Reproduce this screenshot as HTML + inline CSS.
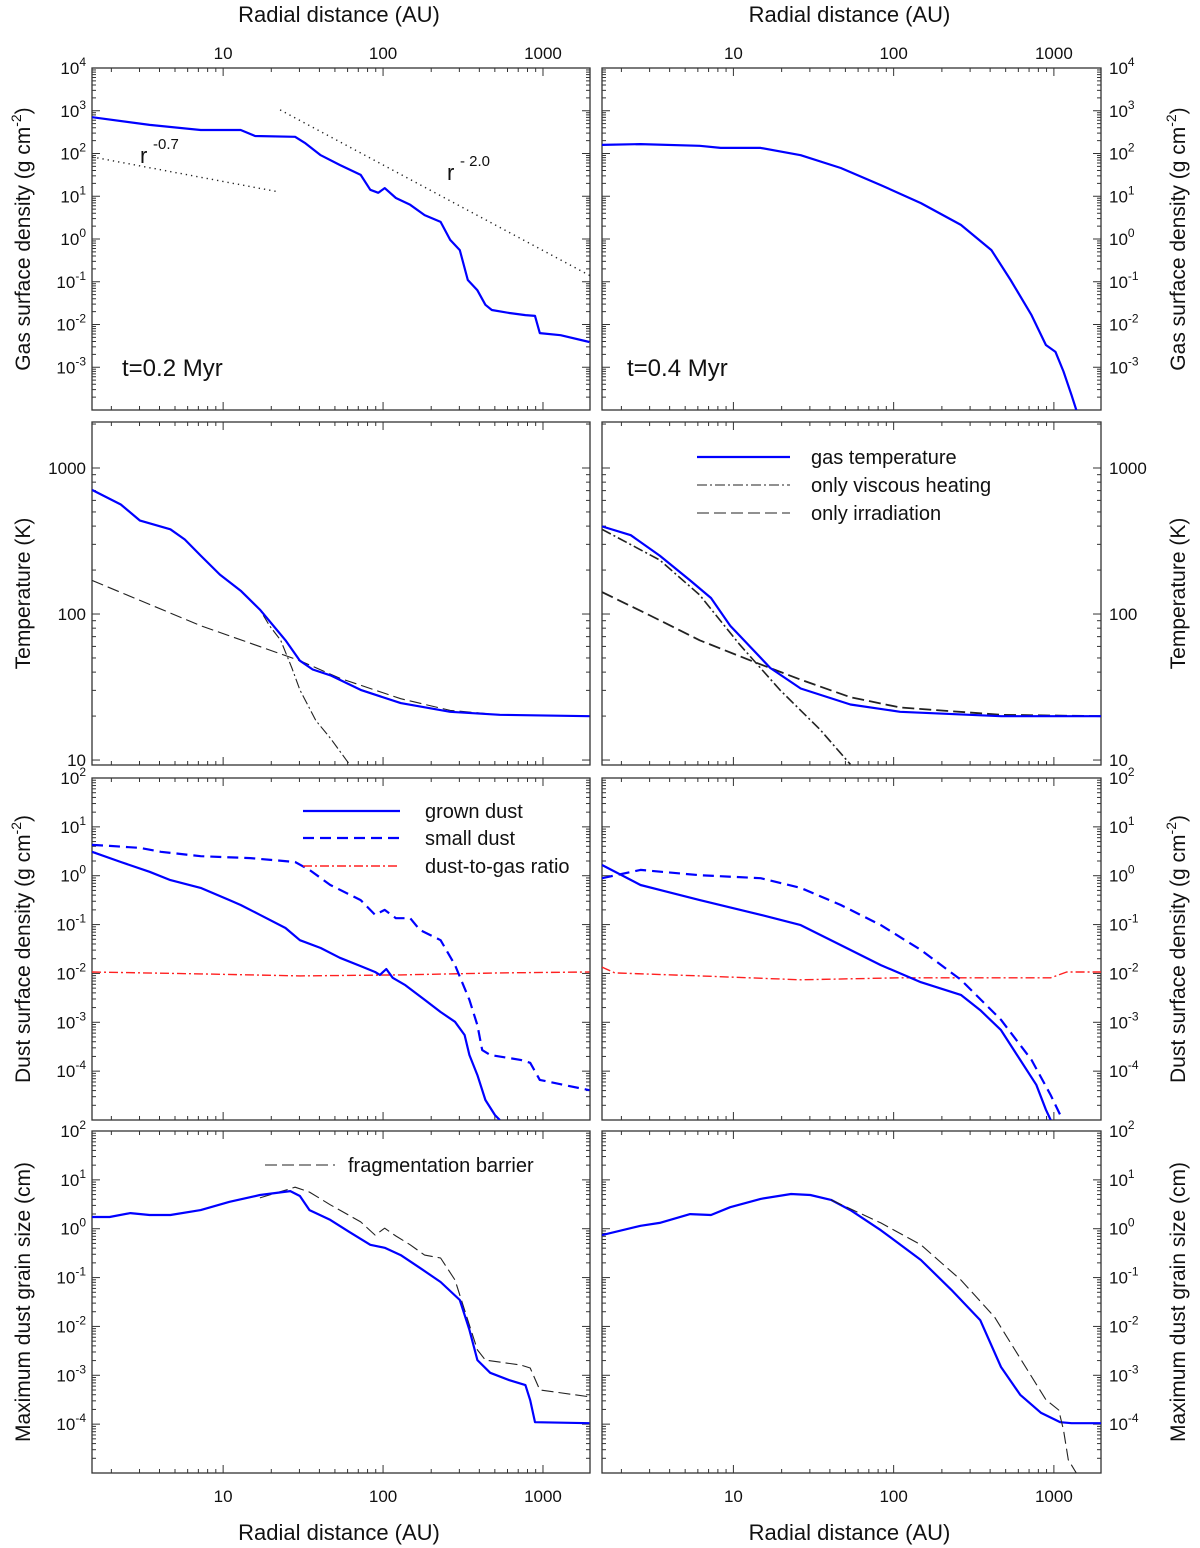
<!DOCTYPE html>
<html><head><meta charset="utf-8"><style>
body{margin:0;background:#fff}
svg{display:block;font-family:"Liberation Sans",sans-serif}
</style></head><body>
<svg id="c" width="1200" height="1548" viewBox="0 0 1200 1548"></svg>
<script>
// ---- data (log10 radius in AU, log10 quantity) ----
const gasL_logR=[0.18,0.54,0.86,1.11,1.2,1.45,1.51,1.61,1.73,1.86,1.92,1.97,2.01,2.08,2.17,2.26,2.36,2.42,2.48,2.53,2.59,2.64,2.68,2.79,2.89,2.95,2.98,3.11,3.29];
const gasL_logS=[2.85,2.67,2.55,2.55,2.41,2.39,2.25,1.96,1.73,1.5,1.15,1.08,1.19,0.96,0.8,0.56,0.4,-0.02,-0.26,-0.96,-1.2,-1.54,-1.66,-1.73,-1.78,-1.8,-2.2,-2.25,-2.41];
const gasR_logR=[0.18,0.42,0.79,0.92,1.17,1.42,1.67,1.92,2.17,2.42,2.61,2.73,2.86,2.95,3.01,3.06,3.11,3.14];
const gasR_logS=[2.2,2.22,2.18,2.13,2.13,1.96,1.66,1.26,0.84,0.33,-0.26,-0.96,-1.78,-2.48,-2.64,-3.1,-3.65,-4];
const slopes=[-0.7,-2.0];
const tgL_logR=[0.18,0.36,0.48,0.67,0.76,0.86,0.98,1.11,1.23,1.39,1.48,1.56,1.67,1.86,2.11,2.42,2.73,3.29];
const tgL_logT=[2.85,2.75,2.64,2.58,2.51,2.40,2.27,2.16,2.03,1.82,1.68,1.62,1.58,1.48,1.39,1.33,1.31,1.30];
const tvL_logR=[0.18,0.36,0.48,0.67,0.76,0.86,0.98,1.11,1.23,1.29,1.36,1.43,1.48,1.58,1.67,1.79];
const tvL_logT=[2.85,2.75,2.64,2.58,2.51,2.40,2.27,2.16,2.03,1.92,1.82,1.63,1.48,1.27,1.15,0.97];
const tiL_logR=[0.18,0.86,1.48,1.73,2.11,2.42,2.73,3.29];
const tiL_logT=[2.23,1.92,1.68,1.56,1.42,1.34,1.31,1.30];
const tgR_logR=[0.18,0.36,0.54,0.73,0.86,0.98,1.11,1.23,1.42,1.73,2.04,2.67,3.3];
const tgR_logT=[2.60,2.54,2.40,2.23,2.11,1.92,1.77,1.63,1.49,1.38,1.33,1.30,1.30];
const tvR_logR=[0.18,0.54,0.79,1.04,1.29,1.54,1.73];
const tvR_logT=[2.58,2.37,2.13,1.79,1.48,1.21,0.97];
const tiR_logR=[0.18,0.48,0.79,1.11,1.42,1.73,2.04,2.67,3.3];
const tiR_logT=[2.15,1.99,1.82,1.68,1.55,1.43,1.36,1.31,1.30];
const dgL_logR=[0.18,0.36,0.54,0.67,0.86,1.04,1.11,1.23,1.39,1.48,1.61,1.73,1.86,1.95,1.98,2.02,2.06,2.14,2.26,2.36,2.45,2.51,2.54,2.59,2.64,2.70,2.73];
const dgL_logS=[0.49,0.28,0.08,-0.09,-0.25,-0.50,-0.60,-0.80,-1.07,-1.32,-1.48,-1.68,-1.85,-1.97,-2.03,-1.91,-2.09,-2.24,-2.54,-2.79,-2.99,-3.26,-3.67,-4.08,-4.59,-4.9,-5.0];
const dsL_logR=[0.18,0.29,0.48,0.61,0.86,1.17,1.45,1.54,1.67,1.86,1.95,2.01,2.08,2.17,2.23,2.36,2.45,2.54,2.59,2.62,2.67,2.86,2.92,2.98,3.29];
const dsL_logS=[0.63,0.61,0.57,0.49,0.40,0.36,0.28,0.12,-0.19,-0.50,-0.80,-0.70,-0.87,-0.87,-1.11,-1.32,-1.83,-2.54,-3.06,-3.57,-3.67,-3.77,-3.83,-4.18,-4.39];
const rdL_logR=[0.18,0.86,1.48,2.11,2.73,3.29];
const rdL_logV=[-1.97,-2.01,-2.05,-2.03,-1.99,-1.97];
const dgR_logR=[0.18,0.42,0.79,1.17,1.42,1.67,1.92,2.17,2.42,2.54,2.67,2.79,2.89,2.95,2.98];
const dgR_logS=[0.22,-0.19,-0.50,-0.80,-1.01,-1.42,-1.83,-2.18,-2.44,-2.75,-3.16,-3.77,-4.28,-4.79,-5.0];
const dsR_logR=[0.18,0.42,0.79,1.17,1.42,1.67,1.92,2.17,2.42,2.67,2.86,2.98,3.04];
const dsR_logS=[-0.05,0.12,0.01,-0.05,-0.25,-0.60,-1.01,-1.52,-2.13,-2.95,-3.77,-4.49,-4.9];
const rdR_logR=[0.18,0.26,0.79,1.42,2.04,2.98,3.08,3.3];
const rdR_logV=[-1.87,-1.99,-2.05,-2.13,-2.09,-2.09,-1.97,-1.97];
const amL_logR=[0.18,0.29,0.42,0.54,0.67,0.86,1.04,1.23,1.42,1.48,1.54,1.67,1.79,1.92,2.01,2.11,2.23,2.36,2.48,2.54,2.59,2.67,2.79,2.89,2.92,2.95,3.29];
const amL_logA=[0.24,0.24,0.32,0.28,0.28,0.38,0.55,0.69,0.77,0.67,0.38,0.18,-0.07,-0.33,-0.39,-0.54,-0.80,-1.09,-1.46,-2.07,-2.69,-2.95,-3.10,-3.20,-3.51,-3.96,-3.98];
const afL_logR=[1.23,1.45,1.54,1.67,1.86,1.95,2.01,2.08,2.17,2.26,2.36,2.45,2.53,2.59,2.64,2.86,2.92,2.98,3.29];
const afL_logA=[0.63,0.85,0.75,0.49,0.14,-0.13,0.01,-0.15,-0.33,-0.54,-0.60,-1.05,-1.87,-2.48,-2.69,-2.79,-2.85,-3.30,-3.44];
const amR_logR=[0.18,0.42,0.54,0.73,0.86,0.98,1.17,1.36,1.48,1.61,1.73,1.92,2.17,2.36,2.54,2.67,2.79,2.92,3.04,3.11,3.3];
const amR_logA=[-0.13,0.06,0.12,0.30,0.28,0.44,0.61,0.71,0.69,0.59,0.38,-0.03,-0.64,-1.25,-1.87,-2.83,-3.4,-3.77,-3.96,-3.98,-3.98];
const afR_logR=[1.61,1.92,2.17,2.42,2.63,2.95,3.03,3.06,3.09,3.14];
const afR_logA=[0.59,0.12,-0.33,-1.05,-1.81,-3.5,-3.71,-4.12,-4.73,-5.0];
const xTickLabels=["10","100","1000"];
const xTickVals=[1,2,3];

const NS="http://www.w3.org/2000/svg";
const svg=document.getElementById('c');
function el(tag,attrs,parent){const e=document.createElementNS(NS,tag);for(const k in attrs)e.setAttribute(k,attrs[k]);(parent||svg).appendChild(e);return e;}
const XMIN=0.18,XMAX=3.294;
const cols=[{x0:92,x1:590,side:'left'},{x0:602,x1:1101,side:'right'}];
const rows=[
 {y0:68,y1:410,ymin:-4,ymax:4,labs:[4,3,2,1,0,-1,-2,-3],exp:true,title:'Gas surface density (g cm',sup:'-2',tail:')'},
 {y0:422,y1:765,ymin:0.966,ymax:3.315,labs:[3,2,1],exp:false,title:'Temperature (K)'},
 {y0:778,y1:1120,ymin:-5,ymax:2,labs:[2,1,0,-1,-2,-3,-4],exp:true,title:'Dust surface density (g cm',sup:'-2',tail:')'},
 {y0:1131,y1:1473,ymin:-5,ymax:2,labs:[2,1,0,-1,-2,-3,-4],exp:true,title:'Maximum dust grain size (cm)'}];
function sx(c,v){return c.x0+(v-XMIN)/(XMAX-XMIN)*(c.x1-c.x0);}
function sy(r,v){return r.y1-(v-r.ymin)/(r.ymax-r.ymin)*(r.y1-r.y0);}
function panel(ri,ci){
 const r=rows[ri],c=cols[ci];
 const g=el('g',{});
 
 
 const cp='clip'+ri+ci;
 const cl=el('clipPath',{id:cp},g);el('rect',{x:c.x0,y:r.y0,width:c.x1-c.x0,height:r.y1-r.y0},cl);
 const fr=el('rect',{x:c.x0,y:r.y0,width:c.x1-c.x0,height:r.y1-r.y0,fill:'none',stroke:'#333','stroke-width':1.3},g);
 
 
 for(let d=0;d<4;d++)for(let m=1;m<10;m++){const v=d+Math.log10(m);if(v<XMIN||v>XMAX)continue;const x=sx(c,v);const L=m==1?8:4;
  el('line',{x1:x,x2:x,y1:r.y0,y2:r.y0+L,stroke:'#333','stroke-width':1},g);el('line',{x1:x,x2:x,y1:r.y1,y2:r.y1-L,stroke:'#333','stroke-width':1},g);}
 for(let d=Math.floor(r.ymin);d<=Math.ceil(r.ymax);d++)for(let m=1;m<10;m++){const v=d+Math.log10(m);if(v<r.ymin-0.001||v>r.ymax+0.001)continue;const y=sy(r,v);const L=m==1?8:4;
  el('line',{x1:c.x0,x2:c.x0+L,y1:y,y2:y,stroke:'#333','stroke-width':1},g);el('line',{x1:c.x1,x2:c.x1-L,y1:y,y2:y,stroke:'#333','stroke-width':1},g);}
 r.labs.forEach(v=>{const y=sy(r,v);const t=el('text',{x:ci==0?c.x0-6:c.x1+8,y:y+6,'font-size':17,'text-anchor':ci==0?'end':'start',fill:'#111'},g);
  
  
  if(r.exp){t.textContent='10';const s=el('tspan',{dy:-8,'font-size':12},t);s.textContent=String(v);}
  else t.textContent=String(Math.round(Math.pow(10,v)));});
 const tx=ci==0?30:1185,ty=(r.y0+r.y1)/2;
 const tt=el('text',{x:tx,y:ty,'font-size':21,'text-anchor':'middle',transform:`rotate(-90 ${tx} ${ty})`,fill:'#111'},g);
 
 
 tt.textContent=r.title;if(r.sup){const s=el('tspan',{dy:-9,'font-size':14},tt);s.textContent=r.sup;const s2=el('tspan',{dy:9},tt);s2.textContent=r.tail;}
 return {g:el('g',{'clip-path':`url(#${cp})`},g),r,c};
}
function line(P,xs,ys,style,name){
 const d=xs.map((v,i)=>(i?'L':'M')+sx(P.c,v).toFixed(1)+','+sy(P.r,ys[i]).toFixed(1)).join('');
 const p=el('path',Object.assign({d:d,fill:'none','stroke-linejoin':'round'},style),P.g);
 
 
}
const BLUE={stroke:'#0000ff','stroke-width':2.2};
const BDASH={stroke:'#0000ff','stroke-width':2.2,'stroke-dasharray':'11,6'};
const KDASH={stroke:'#222','stroke-width':1.1,'stroke-dasharray':'12,5'};
const KDD={stroke:'#222','stroke-width':1.1,'stroke-dasharray':'10,3,2,3'};
const RED={stroke:'#ff2020','stroke-width':1.4,'stroke-dasharray':'9,3,2,3'};
const P=[];for(let i=0;i<4;i++)P.push([panel(i,0),panel(i,1)]);
line(P[0][0],gasL_logR,gasL_logS,BLUE,'gas-density-0.2myr');
line(P[0][1],gasR_logR,gasR_logS,BLUE,'gas-density-0.4myr');
{const a0=0.18,a1=1.344,b0=1.356,b1=3.294;const ya=1.92,yb=3.02;
 line(P[0][0],[a0,a1],[ya,ya+slopes[0]*(a1-a0)],{stroke:'#222','stroke-width':1.4,'stroke-dasharray':'1.3,4'},'power-law-r-0.7');
 line(P[0][0],[b0,b1],[yb,yb+slopes[1]*(b1-b0)],{stroke:'#222','stroke-width':1.4,'stroke-dasharray':'1.3,4'},'power-law-r-2.0');}
line(P[1][0],tiL_logR,tiL_logT,KDASH,'irradiation-temp-left');
line(P[1][0],tvL_logR,tvL_logT,KDD,'viscous-temp-left');
line(P[1][0],tgL_logR,tgL_logT,BLUE,'gas-temp-left');
line(P[1][1],tiR_logR,tiR_logT,Object.assign({},KDASH,{'stroke-width':1.8}),'irradiation-temp-right');
line(P[1][1],tvR_logR,tvR_logT,Object.assign({},KDD,{'stroke-width':1.6}),'viscous-temp-right');
line(P[1][1],tgR_logR,tgR_logT,BLUE,'gas-temp-right');
line(P[2][0],rdL_logR,rdL_logV,RED,'dust-to-gas-left');
line(P[2][0],dsL_logR,dsL_logS,BDASH,'small-dust-left');
line(P[2][0],dgL_logR,dgL_logS,BLUE,'grown-dust-left');
line(P[2][1],rdR_logR,rdR_logV,RED,'dust-to-gas-right');
line(P[2][1],dsR_logR,dsR_logS,BDASH,'small-dust-right');
line(P[2][1],dgR_logR,dgR_logS,BLUE,'grown-dust-right');
line(P[3][0],afL_logR,afL_logA,KDASH,'frag-barrier-left');
line(P[3][0],amL_logR,amL_logA,BLUE,'max-grain-left');
line(P[3][1],amR_logR,amR_logA,BLUE,'max-grain-right');
line(P[3][1],afR_logR,afR_logA,KDASH,'frag-barrier-right');
cols.forEach((c,ci)=>{xTickVals.forEach((v,i)=>{[[52+7,'top'],[1495+7,'bottom']].forEach(([y,w])=>{
  const t=el('text',{x:sx(c,v),y:y,'font-size':17,'text-anchor':'middle',fill:'#111'});
  
  
  t.textContent=xTickLabels[i];});});
 [[22,'top'],[1540,'bottom']].forEach(([y,w])=>{const t=el('text',{x:(c.x0+c.x1)/2-2,y:y,'font-size':22,'text-anchor':'middle',fill:'#111'});
  
  
  t.textContent='Radial distance (AU)';});});
function txt(x,y,s,size,name,anchor){const t=el('text',{x:x,y:y,'font-size':size,fill:'#111','text-anchor':anchor||'start'});
 
 
 t.textContent=s;return t;}
txt(122,376,'t=0.2 Myr',24,'time-label-left');
txt(627,376,'t=0.4 Myr',24,'time-label-right');
txt(140,163,'r',22,'slope-label-0.7');txt(153,149,'-0.7',15,'slope-exp-0.7');
txt(447,180,'r',22,'slope-label-2.0');txt(460,166,'- 2.0',15,'slope-exp-2.0');
function leg(x1,x2,y,style,label,tx){const l=el('line',Object.assign({x1:x1,x2:x2,y1:y,y2:y},style));
 
 
 txt(tx,y+7,label,20,'legend-entry');}
leg(697,790,457,BLUE,'gas temperature',811);
leg(697,790,485,KDD,'only viscous heating',811);
leg(697,790,513,KDASH,'only irradiation',811);
leg(303,400,811,BLUE,'grown dust',425);
leg(303,400,838,BDASH,'small dust',425);
leg(303,400,866,RED,'dust-to-gas ratio',425);
leg(265,335,1165,KDASH,'fragmentation barrier',348);
</script>
</body></html>
